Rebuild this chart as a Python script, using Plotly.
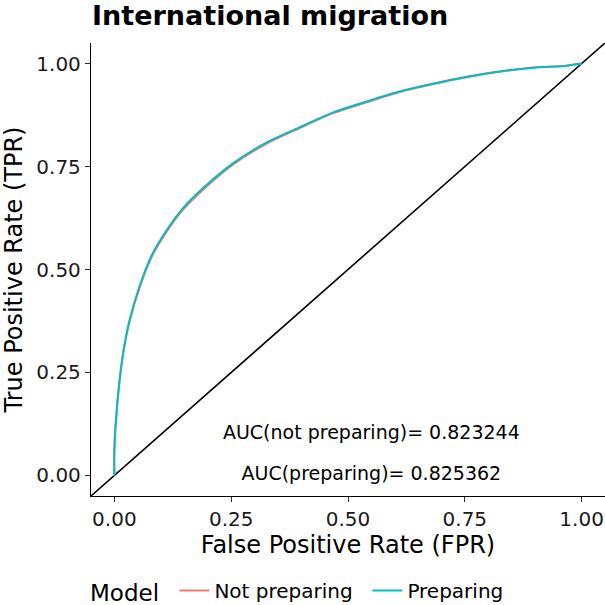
import plotly.graph_objects as go

# ROC curve points
fpr_prep = [0.0, 0.0, 0.007, 0.018, 0.032, 0.054, 0.081, 0.111, 0.146, 0.197, 0.253, 0.325,
            0.396, 0.467, 0.540, 0.610, 0.681, 0.754, 0.824, 0.895, 0.968, 1.0]
tpr_prep = [0.0, 0.063, 0.184, 0.292, 0.375, 0.460, 0.537, 0.594, 0.648, 0.705, 0.757, 0.808,
            0.845, 0.881, 0.908, 0.932, 0.951, 0.968, 0.981, 0.990, 0.995, 1.0]
fpr_notprep = [0.0, 0.0, 0.007, 0.018, 0.032, 0.054, 0.081, 0.111, 0.146, 0.197, 0.253, 0.325,
               0.396, 0.467, 0.540, 0.610, 0.681, 0.754, 0.824, 0.895, 0.968, 1.0]
tpr_notprep = [0.0, 0.062, 0.182, 0.289, 0.371, 0.456, 0.533, 0.590, 0.644, 0.701, 0.754, 0.805,
               0.843, 0.879, 0.906, 0.931, 0.950, 0.967, 0.980, 0.990, 0.995, 1.0]
diag = [-0.05, 1.05]
x_ticks = [0.0, 0.25, 0.5, 0.75, 1.0]
x_ticklabels = ["0.00", "0.25", "0.50", "0.75", "1.00"]
auc_labels = ["AUC(not preparing)= 0.823244", "AUC(preparing)= 0.825362"]
auc_pos_x = [0.55, 0.55]
auc_pos_y = [0.1, 0.0]

FONT = "DejaVu Sans"
fig = go.Figure()
fig.add_trace(go.Scatter(x=diag, y=diag, mode="lines", line=dict(color="black", width=1.6),
                         showlegend=False, hoverinfo="skip"))
fig.add_trace(go.Scatter(x=fpr_notprep, y=tpr_notprep, mode="lines", name="Not preparing",
                         line=dict(color="#F8766D", width=2, shape="spline", smoothing=0.8)))
fig.add_trace(go.Scatter(x=fpr_prep, y=tpr_prep, mode="lines", name="Preparing",
                         line=dict(color="#00BFC4", width=2, shape="spline", smoothing=0.8)))
fig.add_trace(go.Scatter(x=auc_pos_x, y=auc_pos_y, mode="text", text=auc_labels,
                         textfont=dict(family=FONT, size=19, color="black"),
                         showlegend=False, hoverinfo="skip"))

axis_common = dict(showline=True, linecolor="black", linewidth=1.3, ticks="outside",
                   ticklen=5, tickwidth=1.3, tickcolor="#333333", showgrid=False, zeroline=False,
                   range=[-0.05, 1.05], tickvals=x_ticks, ticktext=x_ticklabels,
                   tickfont=dict(family=FONT, size=20, color="#1a1a1a"))
fig.update_layout(
    width=605, height=605,
    margin=dict(l=91, r=0, t=43, b=109),
    paper_bgcolor="white", plot_bgcolor="white",
    font=dict(family=FONT, color="black"),
    title=dict(text="<b>International migration</b>", font=dict(family=FONT, size=27, color="black"),
               x=92 / 605, xref="container", xanchor="left", y=1 - 16 / 605, yanchor="middle"),
    xaxis=dict(axis_common, title=dict(text="False Positive Rate (FPR)",
                                       font=dict(family=FONT, size=24), standoff=4)),
    yaxis=dict(axis_common, title=dict(text="True Positive Rate (TPR)",
                                       font=dict(family=FONT, size=24), standoff=6)),
    legend=dict(orientation="h", xref="container", yref="container", x=88 / 605, xanchor="left",
                y=14 / 605, yanchor="middle", title=dict(text="Model ", font=dict(family=FONT, size=23)),
                font=dict(family=FONT, size=20), itemwidth=30,
                entrywidth=148, entrywidthmode="pixels"),
    showlegend=True,
)
fig.write_html("out.html")
